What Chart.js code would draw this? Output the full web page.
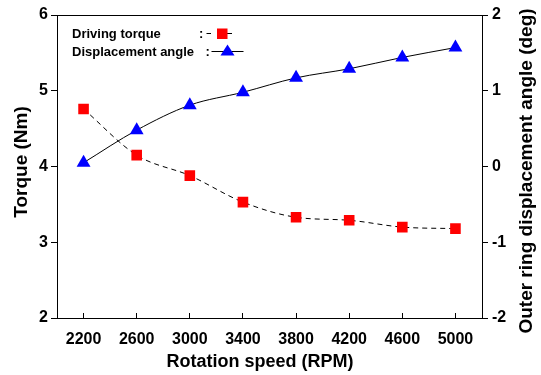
<!DOCTYPE html>
<html><head><meta charset="utf-8">
<script src="https://cdn.jsdelivr.net/npm/chart.js@4/dist/chart.umd.min.js"></script>
<style>html,body{margin:0;padding:0;background:#fff}#wrap{width:541px;height:375px}</style>
</head><body><div id="wrap"><canvas id="c" width="541" height="375"></canvas></div>
<script>
const speeds = ['2200','2600','3000','3400','3800','4200','4600','5000'];
const torque = [4.76, 4.15, 3.88, 3.53, 3.33, 3.29, 3.20, 3.18];
const angle  = [0.05, 0.48, 0.81, 0.98, 1.17, 1.29, 1.44, 1.57];
const torqueRange = [2, 6];
const angleRange = [-2, 2];
const xTitle = 'Rotation speed (RPM)';
const yTitle = 'Torque (Nm)';
const y2Title = 'Outer ring displacement angle (deg)';
const legendLabels = ['Driving torque', 'Displacement angle'];

const FONT = '"Liberation Sans", Arial, sans-serif';
const RED = '#ff0000', BLUE = '#0000ff';

const decor = {
  id: 'decor',
  afterDraw(chart) {
    const ctx = chart.ctx, a = chart.chartArea;
    ctx.save();
    // top frame line
    ctx.strokeStyle = '#000'; ctx.lineWidth = 1; ctx.setLineDash([]);
    ctx.beginPath(); ctx.moveTo(a.left, Math.round(a.top) + 0.5); ctx.lineTo(a.right, Math.round(a.top) + 0.5); ctx.stroke();

    ctx.fillStyle = '#000';
    // bottom title
    ctx.font = 'bold 18px ' + FONT;
    ctx.textAlign = 'center'; ctx.textBaseline = 'alphabetic';
    ctx.fillText(xTitle, a.left + 203, 366.5);
    // left title
    ctx.font = 'bold 19px ' + FONT;
    ctx.save(); ctx.translate(27, 162); ctx.rotate(-Math.PI / 2);
    ctx.fillText(yTitle, 0, 0); ctx.restore();
    // right title
    ctx.save(); ctx.translate(531.5, 171); ctx.rotate(-Math.PI / 2);
    ctx.fillText(y2Title, 0, 0); ctx.restore();

    // legend
    ctx.font = 'bold 13px ' + FONT;
    ctx.textAlign = 'left';
    const lx = a.left + 15;
    ctx.fillText(legendLabels[0], lx, 38);
    ctx.fillText(':', 199, 38);
    ctx.fillText(legendLabels[1], lx, 56);
    ctx.fillText(':', 205.5, 56);
    // row 1 symbol
    ctx.lineWidth = 1;
    ctx.beginPath();
    ctx.moveTo(206.5, 33.5); ctx.lineTo(211, 33.5);
    ctx.moveTo(227, 33.5); ctx.lineTo(232, 33.5);
    ctx.stroke();
    ctx.fillStyle = RED;
    ctx.fillRect(217, 28.5, 10.5, 10.5);
    // row 2 symbol
    ctx.beginPath(); ctx.moveTo(211.5, 51.5); ctx.lineTo(243.5, 51.5); ctx.stroke();
    ctx.fillStyle = BLUE;
    ctx.beginPath(); ctx.moveTo(227.5, 44.5); ctx.lineTo(234.5, 55.5); ctx.lineTo(220.5, 55.5); ctx.closePath(); ctx.fill();
    ctx.restore();
  }
};

const tickFont = { family: FONT, size: 16, weight: 'bold' };

new Chart(document.getElementById('c'), {
  type: 'line',
  data: {
    labels: speeds,
    datasets: [
      {
        label: legendLabels[0], data: torque, yAxisID: 'y',
        borderColor: '#000', borderWidth: 1, borderDash: [5, 4],
        pointStyle: 'rect', pointRadius: 7.5, pointBackgroundColor: RED, pointBorderColor: RED, pointBorderWidth: 0,
        cubicInterpolationMode: 'monotone', fill: false
      },
      {
        label: legendLabels[1], data: angle, yAxisID: 'y1',
        borderColor: '#000', borderWidth: 1,
        pointStyle: 'triangle', pointRadius: 8, pointBackgroundColor: BLUE, pointBorderColor: BLUE, pointBorderWidth: 0,
        cubicInterpolationMode: 'monotone', fill: false
      }
    ]
  },
  options: {
    responsive: false, animation: false, devicePixelRatio: 1,
    layout: { padding: { top: 15, left: 0, right: 0, bottom: 0 } },
    plugins: { legend: { display: false }, tooltip: { enabled: false } },
    scales: {
      x: {
        type: 'category', offset: true,
        grid: { display: true, drawOnChartArea: false, drawTicks: true, tickLength: -5, color: '#000', lineWidth: 1 },
        border: { display: true, color: '#000', width: 1 },
        ticks: { font: tickFont, color: '#000', padding: 17, maxRotation: 0, autoSkip: false },
        afterFit(s) { s.height = 57; }
      },
      y: {
        position: 'left', min: torqueRange[0], max: torqueRange[1],
        grid: { display: true, drawOnChartArea: false, drawTicks: true, tickLength: 6, color: '#000', lineWidth: 1 },
        border: { display: true, color: '#000', width: 1 },
        ticks: { stepSize: 1, font: tickFont, color: '#000', padding: 3 },
        afterFit(s) { s.width = 57; }
      },
      y1: {
        position: 'right', min: angleRange[0], max: angleRange[1],
        grid: { display: true, drawOnChartArea: false, drawTicks: true, tickLength: 6, color: '#000', lineWidth: 1 },
        border: { display: true, color: '#000', width: 1 },
        ticks: { stepSize: 1, font: tickFont, color: '#000', padding: 4 },
        afterFit(s) { s.width = 59; }
      }
    }
  },
  plugins: [decor]
});
</script>
</body></html>
